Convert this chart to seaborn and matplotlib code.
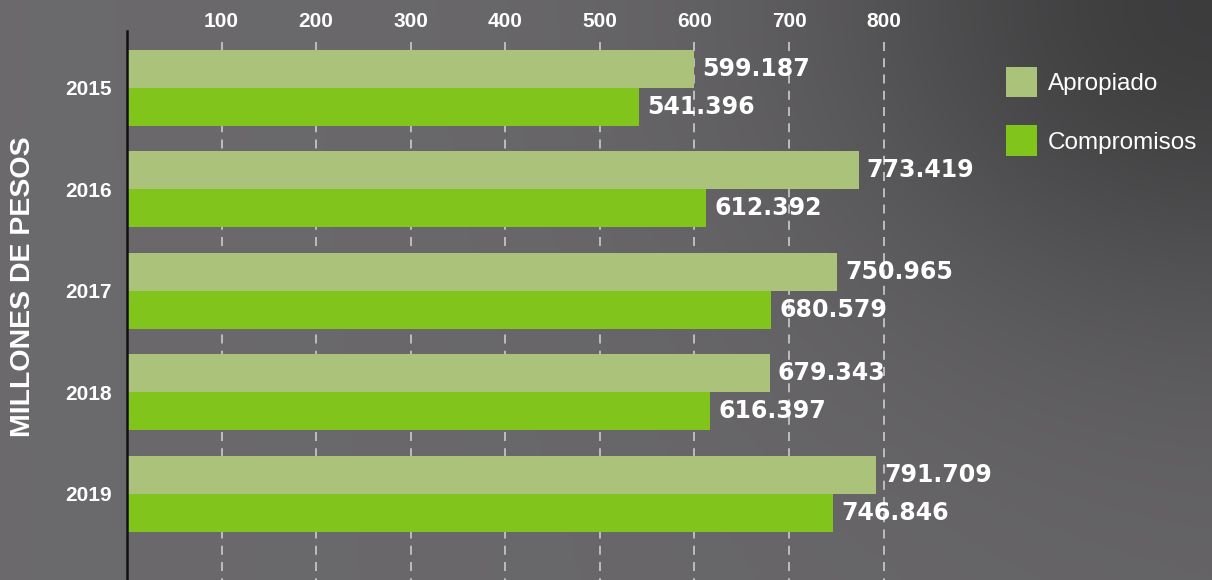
import numpy as np
import pandas as pd
import seaborn as sns
import matplotlib
matplotlib.use('Agg')
import matplotlib.pyplot as plt
from matplotlib.patches import Patch

# Data (millones de pesos)
years = ['2015', '2016', '2017', '2018', '2019']
apropiado = [599.187, 773.419, 750.965, 679.343, 791.709]
compromisos = [541.396, 612.392, 680.579, 616.397, 746.846]
series_names = ['Apropiado', 'Compromisos']
x_ticks = [100, 200, 300, 400, 500, 600, 700, 800]

COLORS = {'Apropiado': '#abc27a', 'Compromisos': '#80c41c'}
WHITE = '#ffffff'

df = pd.DataFrame({
    'Year': years * 2,
    'Serie': ['Apropiado'] * len(years) + ['Compromisos'] * len(years),
    'Valor': apropiado + compromisos,
})

sns.set_style('white')
plt.rcParams['font.family'] = ['Liberation Sans', 'DejaVu Sans']

W, H = 1212, 580
fig = plt.figure(figsize=(W / 100, H / 100), dpi=100)

# Background: dark grey, darker towards the upper right corner
bg = fig.add_axes([0, 0, 1, 1], zorder=0)
gx, gy = np.meshgrid(np.linspace(0, 1, 300), np.linspace(1, 0, 150))
shade = np.exp(-(((gx - 1.0) ** 2) / 0.10 + ((gy - 1.0) ** 2) / 0.30))
level = 0.42 - 0.16 * shade - 0.02 * gx
img = np.dstack([level, level * 0.985, level * 1.005])
bg.imshow(np.clip(img, 0, 1), aspect='auto', extent=[0, 1, 0, 1],
          interpolation='bilinear')
bg.axis('off')

# Main axes
x0 = 127 / W
top = 1 - 31 / H
ax = fig.add_axes([x0, 0, (1000 - 127) / W, top], zorder=1)
ax.patch.set_alpha(0)

# dashed grid lines behind the bars
ax.vlines(x_ticks, ymin=-0.45, ymax=4.9, colors='#c4c4c4', linewidth=1.3,
          linestyles=(0, (5, 4)), zorder=0.5)

sns.barplot(data=df, y='Year', x='Valor', hue='Serie', order=years,
            hue_order=series_names, palette=COLORS, orient='h',
            width=0.75, saturation=1, dodge=True, ax=ax, legend=False,
            zorder=2)
for p in ax.patches:
    p.set_edgecolor('none')

for cont in ax.containers:
    labels = [f'{v:.3f}' for v in cont.datavalues]
    ax.bar_label(cont, labels=labels, padding=6, color=WHITE,
                 fontsize=17, fontweight='bold', family='DejaVu Sans')

ax.set_xlim(0, 923)
ax.set_ylim(4.85, -0.56)
ax.set_xticks(x_ticks)
ax.xaxis.tick_top()
ax.tick_params(axis='x', length=0, pad=0, labelsize=15, labelcolor=WHITE)
ax.tick_params(axis='y', length=0, pad=11, labelsize=15, labelcolor=WHITE)
for lab in ax.get_xticklabels() + ax.get_yticklabels():
    lab.set_fontweight('bold')
ax.set_xlabel('')
ax.set_ylabel('')

for s in ['top', 'right', 'bottom']:
    ax.spines[s].set_visible(False)
ax.spines['left'].set_color('#111111')
ax.spines['left'].set_linewidth(1.8)

fig.text(23 / W, 1 - 287 / H, 'MILLONES DE PESOS', rotation=90,
         ha='center', va='center', color=WHITE, fontsize=20.5,
         fontweight='bold')

handles = [Patch(facecolor=COLORS[n], edgecolor='none', label=n)
           for n in series_names]
leg = fig.legend(handles=handles, loc='upper left',
                 bbox_to_anchor=(1006 / W, 1 - 67 / H), frameon=False,
                 fontsize=17.5, handlelength=1.27, handleheight=1.55,
                 handletextpad=0.45, labelspacing=1.15, borderpad=0,
                 borderaxespad=0)
for t in leg.get_texts():
    t.set_color(WHITE)

fig.savefig('out.png', dpi=100)
